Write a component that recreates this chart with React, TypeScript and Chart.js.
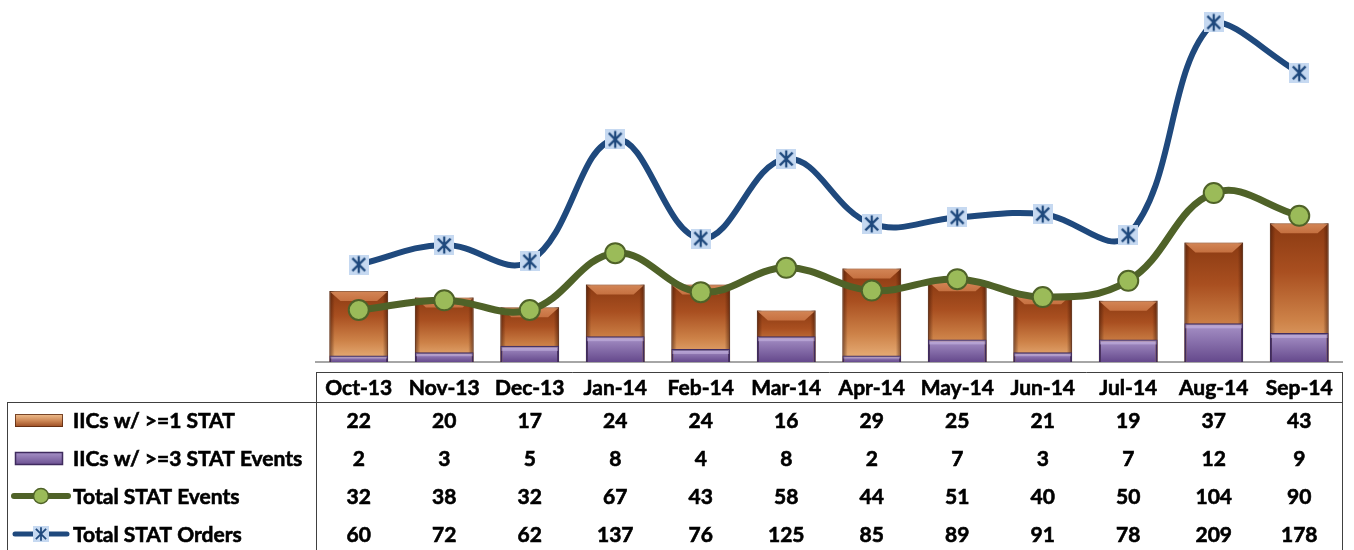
import React, { useEffect, useRef } from "react";
import { Chart, registerables } from "chart.js";

Chart.register(...registerables);

const categories = ["Oct-13", "Nov-13", "Dec-13", "Jan-14", "Feb-14", "Mar-14", "Apr-14", "May-14", "Jun-14", "Jul-14", "Aug-14", "Sep-14"];
const iicsAtLeastOne = [22, 20, 17, 24, 24, 16, 29, 25, 21, 19, 37, 43];
const iicsAtLeastThree = [2, 3, 5, 8, 4, 8, 2, 7, 3, 7, 12, 9];
const totalStatEvents = [32, 38, 32, 67, 43, 58, 44, 51, 40, 50, 104, 90];
const totalStatOrders = [60, 72, 62, 137, 76, 125, 85, 89, 91, 78, 209, 178];
const seriesLabels = ["IICs w/ >=1 STAT", "IICs w/ >=3 STAT Events", "Total STAT Events", "Total STAT Orders"];
const tableRows = [iicsAtLeastOne, iicsAtLeastThree, totalStatEvents, totalStatOrders];

const FONT = '"Lato", "Noto Sans", sans-serif';
const BLUE = "#1f497d";
const GREEN = "#4f6228";
const GREEN_FILL = "#9bbb59";
const MARKER_FILL = "#c6d9f1";
const TEXT_SIZE = 21;

function drawStar(g: CanvasRenderingContext2D, cx: number, cy: number, size: number) {
  g.save();
  g.fillStyle = MARKER_FILL;
  g.fillRect(cx - size / 2, cy - size / 2, size, size);
  g.strokeStyle = BLUE;
  g.lineWidth = Math.max(1.5, size / 9);
  const r = size * 0.42;
  const d = size * 0.32;
  g.beginPath();
  g.moveTo(cx, cy - r);
  g.lineTo(cx, cy + r);
  g.moveTo(cx - d, cy - d);
  g.lineTo(cx + d, cy + d);
  g.moveTo(cx + d, cy - d);
  g.lineTo(cx - d, cy + d);
  g.stroke();
  g.restore();
}

function makeStarCanvas(size: number) {
  const c = document.createElement("canvas");
  c.width = size;
  c.height = size;
  const g = c.getContext("2d")!;
  drawStar(g, size / 2, size / 2, size);
  return c;
}

function barBounds(el: any) {
  const p = el.getProps(["x", "y", "base", "width"], true);
  const left = p.x - p.width / 2;
  const right = p.x + p.width / 2;
  const top = Math.min(p.y, p.base);
  const bottom = Math.max(p.y, p.base);
  return { left, right, top, bottom, w: right - left, h: bottom - top };
}

function orangeFill(ctx: any) {
  const chart = ctx.chart;
  const ys = chart.scales && chart.scales.y;
  if (!ys || ctx.type !== "data") return "#c0703a";
  const top = ys.getPixelForValue(ctx.raw);
  const base = ys.getPixelForValue(0);
  if (!isFinite(top) || !isFinite(base) || Math.abs(base - top) < 1) return "#c0703a";
  const g = chart.ctx.createLinearGradient(0, top, 0, base);
  g.addColorStop(0, "#8a3a12");
  g.addColorStop(0.35, "#a94f20");
  g.addColorStop(0.7, "#cd8248");
  g.addColorStop(1, "#ebb47e");
  return g;
}

function purpleFill(ctx: any) {
  const chart = ctx.chart;
  const ys = chart.scales && chart.scales.y;
  if (!ys || ctx.type !== "data") return "#7f66a6";
  const top = ys.getPixelForValue(ctx.raw);
  const base = ys.getPixelForValue(0);
  if (!isFinite(top) || !isFinite(base) || Math.abs(base - top) < 1) return "#7f66a6";
  const g = chart.ctx.createLinearGradient(0, top, 0, base);
  g.addColorStop(0, "#a893c8");
  g.addColorStop(1, "#65498c");
  return g;
}

const barStylePlugin = {
  id: "barStyle",
  beforeDatasetDraw(chart: any, args: any) {
    const ds = chart.data.datasets[args.index];
    if (ds.bevel === "orange") {
      const ctx = chart.ctx;
      ctx.save();
      ctx.shadowColor = "rgba(246,176,120,0.75)";
      ctx.shadowBlur = 7;
    }
  },
  afterDatasetDraw(chart: any, args: any) {
    const ds = chart.data.datasets[args.index];
    if (!ds.bevel) return;
    const ctx = chart.ctx;
    if (ds.bevel === "orange") ctx.restore();
    ctx.save();
    args.meta.data.forEach((el: any) => {
      const b = barBounds(el);
      if (b.h < 1) return;
      if (ds.bevel === "orange") {
        const hg = ctx.createLinearGradient(b.left, 0, b.right, 0);
        hg.addColorStop(0, "rgba(60,20,4,0.6)");
        hg.addColorStop(0.09, "rgba(60,20,4,0.0)");
        hg.addColorStop(0.91, "rgba(60,20,4,0.0)");
        hg.addColorStop(1, "rgba(60,20,4,0.6)");
        ctx.fillStyle = hg;
        ctx.fillRect(b.left, b.top, b.w, b.h);
        const bv = Math.min(10, b.h * 0.3);
        ctx.beginPath();
        ctx.moveTo(b.left + 1, b.top + 1);
        ctx.lineTo(b.right - 1, b.top + 1);
        ctx.lineTo(b.right - 1 - bv, b.top + bv);
        ctx.lineTo(b.left + 1 + bv, b.top + bv);
        ctx.closePath();
        const bg = ctx.createLinearGradient(0, b.top, 0, b.top + bv);
        bg.addColorStop(0, "rgba(236,160,110,0.75)");
        bg.addColorStop(1, "rgba(214,128,78,0.75)");
        ctx.fillStyle = bg;
        ctx.fill();
      } else if (ds.bevel === "purple") {
        const bv = Math.min(4, b.h * 0.3);
        ctx.fillStyle = "rgba(210,195,235,0.45)";
        ctx.fillRect(b.left + 1, b.top + 1, b.w - 2, bv);
      }
    });
    ctx.restore();
  },
};

function drawKey(ctx: CanvasRenderingContext2D, row: number, cx: number, cy: number) {
  const left = 15, right = 63;
  if (row === 0) {
    const g = ctx.createLinearGradient(0, cy - 6, 0, cy + 7);
    g.addColorStop(0, "#f0c090");
    g.addColorStop(0.5, "#cf8a58");
    g.addColorStop(1, "#9a4a20");
    ctx.fillStyle = g;
    ctx.fillRect(left, cy - 6, right - left, 13);
    ctx.strokeStyle = "rgba(90,40,15,0.8)";
    ctx.lineWidth = 1;
    ctx.strokeRect(left + 0.5, cy - 5.5, right - left - 1, 12);
  } else if (row === 1) {
    const g = ctx.createLinearGradient(0, cy - 6, 0, cy + 7);
    g.addColorStop(0, "#a893c8");
    g.addColorStop(1, "#6a4f90");
    ctx.fillStyle = g;
    ctx.fillRect(left, cy - 6, right - left, 13);
    ctx.strokeStyle = "#3f2b5e";
    ctx.lineWidth = 1.5;
    ctx.strokeRect(left + 0.5, cy - 5.5, right - left - 1, 12);
  } else if (row === 2) {
    ctx.strokeStyle = GREEN;
    ctx.lineWidth = 6;
    ctx.lineCap = "round";
    ctx.beginPath();
    ctx.moveTo(14, cy);
    ctx.lineTo(68, cy);
    ctx.stroke();
    ctx.lineCap = "butt";
    ctx.beginPath();
    ctx.arc(cx, cy, 7.5, 0, Math.PI * 2);
    ctx.fillStyle = GREEN_FILL;
    ctx.fill();
    ctx.lineWidth = 1.5;
    ctx.stroke();
  } else {
    ctx.strokeStyle = BLUE;
    ctx.lineWidth = 5;
    ctx.lineCap = "round";
    ctx.beginPath();
    ctx.moveTo(15, cy);
    ctx.lineTo(67, cy);
    ctx.stroke();
    ctx.lineCap = "butt";
    drawStar(ctx, cx, cy, 16);
  }
}

const tablePlugin = {
  id: "dataTable",
  afterDraw(chart: any) {
    const { ctx, chartArea } = chart;
    const xs = chart.scales.x;
    const L = Math.round(chartArea.left);
    const R = Math.round(chartArea.right);
    const headTop = Math.round(chartArea.bottom) + 10;
    const headH = 30;
    const rowH = 38;
    const bodyTop = headTop + headH;
    const tableLeft = 7;
    const H = chart.height;
    ctx.save();
    ctx.strokeStyle = "#404040";
    ctx.lineWidth = 1;
    ctx.beginPath();
    ctx.moveTo(L, headTop + 0.5);
    ctx.lineTo(R + 1, headTop + 0.5);
    ctx.moveTo(tableLeft, bodyTop + 0.5);
    ctx.lineTo(R + 1, bodyTop + 0.5);
    ctx.moveTo(L + 0.5, headTop);
    ctx.lineTo(L + 0.5, H);
    ctx.moveTo(R + 0.5, headTop);
    ctx.lineTo(R + 0.5, H);
    ctx.moveTo(tableLeft + 0.5, bodyTop);
    ctx.lineTo(tableLeft + 0.5, H);
    ctx.stroke();

    const capOff = TEXT_SIZE * 0.36;
    ctx.font = `bold ${TEXT_SIZE}px ${FONT}`;
    ctx.fillStyle = "#000";
    ctx.strokeStyle = "#000";
    ctx.lineWidth = 0.6;
    ctx.textBaseline = "alphabetic";
    ctx.textAlign = "center";
    const put = (t: string, x: number, y: number) => {
      ctx.fillText(t, x, y);
      ctx.strokeText(t, x, y);
    };
    categories.forEach((c, i) => {
      put(c, xs.getPixelForValue(i), headTop + headH / 2 + capOff);
    });
    tableRows.forEach((row, r) => {
      const cy = bodyTop + rowH * r + 18;
      ctx.textAlign = "center";
      row.forEach((v, i) => {
        put(String(v), xs.getPixelForValue(i), cy + capOff);
      });
      ctx.save();
      drawKey(ctx, r, 41, cy);
      ctx.restore();
      ctx.textAlign = "left";
      ctx.strokeStyle = "#000";
      ctx.lineWidth = 0.6;
      put(seriesLabels[r], 73, cy + capOff);
    });
    ctx.restore();
  },
};

export default function App() {
  const canvasRef = useRef<HTMLCanvasElement | null>(null);

  useEffect(() => {
    if (!canvasRef.current) return;
    const starMarker = makeStarCanvas(20);
    const chart = new Chart(canvasRef.current, {
      type: "bar",
      data: {
        labels: categories,
        datasets: [
          {
            type: "line",
            label: seriesLabels[3],
            data: totalStatOrders,
            yAxisID: "y2",
            borderColor: BLUE,
            borderWidth: 6,
            tension: 0.4,
            pointRadius: 0,
            fill: false,
            clip: 0,
            order: 1,
          } as any,
          {
            type: "line",
            label: seriesLabels[3] + " markers",
            data: totalStatOrders,
            yAxisID: "y2",
            showLine: false,
            pointStyle: starMarker,
            pointRadius: 10,
            clip: false,
            order: 0,
          } as any,
          {
            type: "line",
            label: seriesLabels[2],
            data: totalStatEvents,
            yAxisID: "y2",
            borderColor: GREEN,
            borderWidth: 7,
            tension: 0.4,
            pointRadius: 10,
            pointBackgroundColor: GREEN_FILL,
            pointBorderColor: GREEN,
            pointBorderWidth: 2,
            fill: false,
            clip: false,
            order: 2,
          } as any,
          {
            type: "bar",
            label: seriesLabels[1],
            data: iicsAtLeastThree,
            yAxisID: "y",
            backgroundColor: purpleFill,
            borderColor: "#3f2b5e",
            borderWidth: 2,
            grouped: false,
            barPercentage: 0.686,
            categoryPercentage: 1,
            order: 3,
            bevel: "purple",
          } as any,
          {
            type: "bar",
            label: seriesLabels[0],
            data: iicsAtLeastOne,
            yAxisID: "y",
            backgroundColor: orangeFill,
            borderColor: "rgba(85,32,8,0.85)",
            borderWidth: 1,
            grouped: false,
            barPercentage: 0.686,
            categoryPercentage: 1,
            order: 4,
            bevel: "orange",
          } as any,
        ],
      },
      options: {
        responsive: false,
        animation: false,
        events: [],
        devicePixelRatio: 1,
        layout: { padding: { left: 316, right: 5, top: 20, bottom: 188 } },
        plugins: {
          legend: { display: false },
          tooltip: { enabled: false },
        },
        scales: {
          x: {
            type: "category",
            offset: true,
            display: true,
            grid: { display: false, drawTicks: false, tickLength: 0 },
            ticks: { display: false, padding: 0 },
            border: { display: true, color: "#a6a6a6", width: 2 },
          },
          y: { display: false, min: 0, max: 106, position: "left" },
          y2: { display: false, min: 0, max: 210.5, position: "right" },
        },
      } as any,
      plugins: [barStylePlugin, tablePlugin],
    });
    return () => chart.destroy();
  }, []);

  return (
    <div style={{ position: "absolute", left: 0, top: 0, width: 1354, height: 550, background: "#fff" }}>
      <canvas ref={canvasRef} width={1354} height={550} style={{ display: "block", width: 1354, height: 550 }} />
    </div>
  );
}
